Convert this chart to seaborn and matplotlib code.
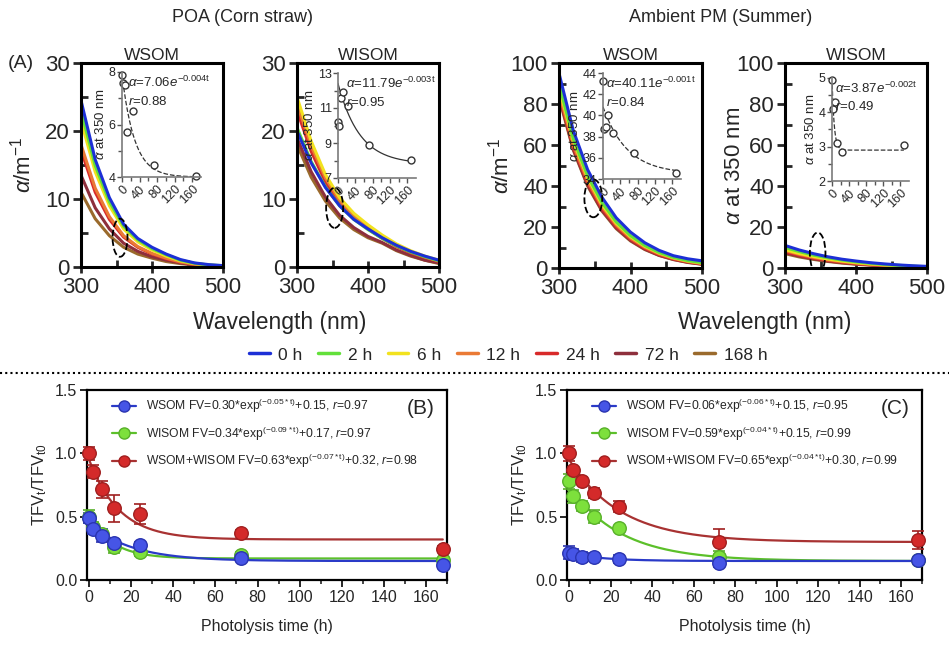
import numpy as np
import pandas as pd
import matplotlib
matplotlib.use("Agg")
import matplotlib.pyplot as plt
from matplotlib.lines import Line2D
from matplotlib.patches import Ellipse
from matplotlib.ticker import FormatStrFormatter
import seaborn as sns

W, H = 949, 648

# ---- spectra (absorption coefficient vs wavelength), rows follow TIMES ----
WAVELENGTH = [300, 320, 340, 360, 380, 400, 420, 440, 460, 480, 500]
TIMES = ["0 h", "2 h", "6 h", "12 h", "24 h", "72 h", "168 h"]
TIME_COLORS = ["#1c2fd6", "#62e03a", "#f2e21e", "#ea7a35", "#d82a2a", "#8e2f3c", "#9a6a2c"]

POA_WSOM_SPECTRA = [
    [24.5, 15.8, 10.2, 6.3, 4.2, 2.9, 1.9, 1.1, 0.6, 0.35, 0.2],
    [23.0, 14.9, 9.6, 6.0, 4.0, 2.7, 1.8, 1.0, 0.55, 0.3, 0.2],
    [21.5, 14.0, 9.0, 5.6, 3.7, 2.5, 1.6, 0.9, 0.5, 0.3, 0.15],
    [18.0, 11.6, 7.4, 4.6, 3.0, 2.0, 1.3, 0.75, 0.4, 0.25, 0.1],
    [17.2, 11.0, 7.0, 4.4, 2.9, 1.9, 1.2, 0.7, 0.4, 0.2, 0.1],
    [13.5, 8.7, 5.6, 3.5, 2.3, 1.5, 1.0, 0.6, 0.3, 0.2, 0.1],
    [11.0, 7.1, 4.6, 2.9, 1.9, 1.3, 0.8, 0.5, 0.3, 0.15, 0.1],
]
POA_WISOM_SPECTRA = [
    [20.0, 15.3, 11.7, 9.0, 7.0, 5.6, 4.3, 3.2, 2.3, 1.6, 1.0],
    [20.5, 15.5, 11.8, 9.0, 7.0, 5.5, 4.2, 3.1, 2.2, 1.5, 0.9],
    [25.0, 18.5, 13.6, 10.2, 7.9, 6.2, 4.7, 3.4, 2.4, 1.6, 1.0],
    [24.0, 17.8, 13.1, 9.8, 7.6, 5.9, 4.5, 3.2, 2.3, 1.5, 0.9],
    [23.0, 17.0, 12.5, 9.3, 7.2, 5.6, 4.2, 3.0, 2.1, 1.4, 0.8],
    [19.0, 14.0, 10.3, 7.6, 5.8, 4.5, 3.6, 2.5, 1.7, 1.0, 0.6],
    [18.0, 13.2, 9.7, 7.2, 5.5, 4.3, 3.5, 2.4, 1.6, 1.0, 0.5],
]
AMB_WSOM_SPECTRA = [
    [95, 67, 48, 34.5, 24.5, 17.5, 12.3, 8.6, 6.0, 4.5, 3.5],
    [90, 63, 45, 32, 22.5, 15.8, 11.0, 7.6, 5.2, 3.6, 2.6],
    [88, 62, 44, 31, 21.8, 15.3, 10.6, 7.3, 5.0, 3.4, 2.4],
    [86, 60, 42.5, 30, 21, 14.6, 10.1, 6.9, 4.7, 3.2, 2.2],
    [85, 59, 41.5, 29, 20.2, 14.0, 9.6, 6.5, 4.4, 3.0, 2.0],
    [84, 58, 40.5, 28.2, 19.6, 13.5, 9.2, 6.2, 4.2, 2.8, 1.9],
    [83, 57.5, 40, 27.8, 19.2, 13.2, 9.0, 6.1, 4.1, 2.7, 1.8],
]
AMB_WISOM_SPECTRA = [
    [11, 8.8, 7.0, 5.5, 4.3, 3.4, 2.6, 2.0, 1.5, 1.1, 0.8],
    [10, 8.0, 6.3, 5.0, 3.9, 3.0, 2.3, 1.7, 1.3, 0.9, 0.6],
    [9.0, 7.1, 5.6, 4.4, 3.4, 2.6, 2.0, 1.5, 1.1, 0.8, 0.5],
    [8.5, 6.7, 5.2, 4.0, 3.1, 2.4, 1.8, 1.3, 1.0, 0.7, 0.5],
    [8.0, 6.2, 4.8, 3.7, 2.8, 2.1, 1.6, 1.2, 0.9, 0.6, 0.4],
    [7.5, 5.8, 4.5, 3.4, 2.6, 2.0, 1.5, 1.1, 0.8, 0.5, 0.4],
    [7.0, 5.4, 4.2, 3.2, 2.4, 1.8, 1.4, 1.0, 0.7, 0.5, 0.3],
]

# ---- insets: a at 350 nm vs time ----
INSET_T = [0, 2, 6, 12, 24, 72, 168]
POA_WSOM_A350 = [7.9, 7.6, 7.5, 5.7, 6.5, 4.45, 4.05]
POA_WISOM_A350 = [10.2, 10.0, 11.6, 11.9, 11.1, 8.9, 8.05]
AMB_WSOM_A350 = [43.2, 38.7, 38.9, 40.0, 38.3, 36.5, 34.6]
AMB_WISOM_T = [0, 2, 6, 12, 24, 168]
AMB_WISOM_A350 = [4.95, 4.1, 4.3, 3.1, 2.85, 3.05]
# drawn trend lines: (plateau, amplitude, rate)
POA_WSOM_TREND = (4.0, 3.9, 0.035)
POA_WISOM_TREND = (7.8, 4.6, 0.02)
AMB_WSOM_TREND = (34.5, 6.3, 0.018)
AMB_WISOM_TREND = (2.9, 2.1, 0.2)

# ---- TFV ratios vs photolysis time ----
PHOTO_T = [0, 2, 6, 12, 24, 72, 168]
B_WSOM = [0.49, 0.40, 0.35, 0.29, 0.28, 0.17, 0.12]
B_WSOM_ERR = [0.04, 0.04, 0.05, 0.03, 0.02, 0.02, 0.01]
B_WISOM = [0.50, 0.42, 0.36, 0.26, 0.22, 0.20, 0.16]
B_WISOM_ERR = [0.05, 0.04, 0.03, 0.05, 0.03, 0.02, 0.01]
B_TOTAL = [1.0, 0.855, 0.715, 0.565, 0.52, 0.375, 0.245]
B_TOTAL_ERR = [0.05, 0.05, 0.07, 0.11, 0.08, 0.02, 0.02]
C_WSOM = [0.215, 0.205, 0.185, 0.185, 0.165, 0.135, 0.155]
C_WSOM_ERR = [0.05, 0.04, 0.04, 0.03, 0.03, 0.03, 0.02]
C_WISOM = [0.78, 0.66, 0.585, 0.50, 0.41, 0.18, 0.16]
C_WISOM_ERR = [0.06, 0.05, 0.04, 0.05, 0.02, 0.05, 0.01]
C_TOTAL = [1.0, 0.865, 0.785, 0.685, 0.58, 0.30, 0.315]
C_TOTAL_ERR = [0.06, 0.03, 0.03, 0.04, 0.04, 0.10, 0.07]
# fit parameters (amplitude, rate, offset) as printed in the legends
B_FITS = [(0.30, 0.05, 0.15), (0.34, 0.09, 0.17), (0.63, 0.07, 0.32)]
C_FITS = [(0.06, 0.06, 0.15), (0.59, 0.04, 0.15), (0.65, 0.04, 0.30)]
B_LABELS = [
    r"WSOM FV=0.30*exp$^{\mathrm{(-0.05*t)}}$+0.15, $r$=0.97",
    r"WISOM FV=0.34*exp$^{\mathrm{(-0.09*t)}}$+0.17, $r$=0.97",
    r"WSOM+WISOM FV=0.63*exp$^{\mathrm{(-0.07*t)}}$+0.32, $r$=0.98",
]
C_LABELS = [
    r"WSOM FV=0.06*exp$^{\mathrm{(-0.06*t)}}$+0.15, $r$=0.95",
    r"WISOM FV=0.59*exp$^{\mathrm{(-0.04*t)}}$+0.15, $r$=0.99",
    r"WSOM+WISOM FV=0.65*exp$^{\mathrm{(-0.04*t)}}$+0.30, $r$=0.99",
]
FACE = ["#4655e6", "#7de03c", "#d42a2a"]
EDGE = ["#2a34b0", "#58b02a", "#a01f1f"]
FITC = ["#2a3ac8", "#5cc02a", "#a83232"]

sns.set_theme(style="ticks")
plt.rcParams["font.family"] = ["Liberation Sans", "DejaVu Sans"]
plt.rcParams["mathtext.fontset"] = "custom"
plt.rcParams["mathtext.rm"] = "Liberation Sans"
plt.rcParams["mathtext.it"] = "Liberation Sans:italic"
plt.rcParams["mathtext.bf"] = "Liberation Sans:bold"

fig = plt.figure(figsize=(W / 100, H / 100), dpi=100)


def px_axes(l, t, r, b):
    return fig.add_axes([l / W, 1 - b / H, (r - l) / W, (b - t) / H])


def fx(x):
    return x / W


def fy(y):
    return 1 - y / H


def spectra_frame(rows):
    recs = []
    for label, vals in zip(TIMES, rows):
        for wl, v in zip(WAVELENGTH, vals):
            recs.append({"wavelength": wl, "a": v, "time": label})
    return pd.DataFrame(recs)


def spectra_panel(box, rows, ymax, title, ellipse):
    ax = px_axes(*box)
    sns.lineplot(data=spectra_frame(rows), x="wavelength", y="a", hue="time",
                 hue_order=TIMES[::-1], palette=dict(zip(TIMES, TIME_COLORS)),
                 linewidth=2.2, legend=False, estimator=None, ax=ax)
    ax.set_xlim(300, 500)
    ax.set_ylim(0, ymax)
    ax.set_xticks([300, 400, 500])
    ax.set_xticks([350, 450], minor=True)
    step = ymax / 3 if ymax == 30 else 20
    ax.set_yticks(np.arange(0, ymax + 0.1, step))
    ax.set_yticks(np.arange(step / 2, ymax, step), minor=True)
    for s in ax.spines.values():
        s.set_linewidth(2.2)
        s.set_color("black")
        s.set_visible(True)
    ax.tick_params(axis="y", which="major", direction="out", length=6, width=2, labelsize=16, pad=2)
    ax.tick_params(axis="x", which="major", direction="inout", length=8, width=2, labelsize=16)
    ax.tick_params(axis="both", which="minor", direction="in", length=5, width=2)
    ax.set_xlabel("")
    ax.set_ylabel("")
    ax.set_title(title, fontsize=12.5, pad=2)
    cx, cy, ew, eh = ellipse
    ax.add_patch(Ellipse((cx, cy), ew, eh, fill=False, ls="--", lw=1.3, color="black", zorder=5))
    return ax


def inset_panel(box, t, vals, ylim, yticks, yminor, trend, ls, txt):
    ax = px_axes(*box)
    ax.patch.set_alpha(0)
    base, amp, k = trend
    tt = np.linspace(0, 168, 200)
    ax.plot(tt, base + amp * np.exp(-k * tt), color="#333333", lw=0.9, ls=ls)
    ax.plot(t, vals, "o", mfc="white", mec="#333333", ms=5, mew=1, clip_on=False)
    ax.set_xlim(0, 180)
    ax.set_ylim(*ylim)
    ax.set_xticks([0, 40, 80, 120, 160])
    ax.set_xticks([20, 60, 100, 140], minor=True)
    ax.set_yticks(yticks)
    ax.set_yticks(yminor, minor=True)
    for side in ["top", "right"]:
        ax.spines[side].set_visible(False)
    for side in ["left", "bottom"]:
        ax.spines[side].set_color("#7a7a7a")
        ax.spines[side].set_linewidth(1.2)
    ax.tick_params(which="both", direction="out", color="#555555", width=1, labelsize=9, pad=1)
    ax.tick_params(which="major", length=3.5)
    ax.tick_params(which="minor", length=3)
    plt.setp(ax.get_xticklabels(), rotation=45, ha="right", va="top", rotation_mode="anchor")
    ax.set_ylabel(r"$\alpha$ at 350 nm", fontsize=9.5, labelpad=1)
    eq, rr, x0 = txt
    ax.text(x0, 0.90, eq, transform=ax.transAxes, fontsize=9.5, va="center")
    ax.text(x0, 0.72, rr, transform=ax.transAxes, fontsize=9.5, va="center")
    return ax


# ---- top row ----
a1 = spectra_panel((81, 63, 223, 267), POA_WSOM_SPECTRA, 30, "WSOM", (355, 4.3, 21, 5.6))
a2 = spectra_panel((297, 63, 439, 267), POA_WISOM_SPECTRA, 30, "WISOM", (353, 8.7, 24, 5.9))
a3 = spectra_panel((559, 63, 702, 268), AMB_WSOM_SPECTRA, 100, "WSOM", (348, 34, 25, 18.5))
a4 = spectra_panel((785, 63, 927, 268), AMB_WISOM_SPECTRA, 100, "WISOM", (346, 7.3, 22, 20))
a1.set_ylabel(r"$\alpha$/m$^{-1}$", fontsize=16)
a1.yaxis.set_label_coords(-0.32, 0.5)
a3.set_ylabel(r"$\alpha$/m$^{-1}$", fontsize=16)
a3.yaxis.set_label_coords(-0.32, 0.5)
a4.set_ylabel(r"$\alpha$ at 350 nm", fontsize=16)
a4.yaxis.set_label_coords(-0.28, 0.5)

inset_panel((122, 72, 201, 177), INSET_T, POA_WSOM_A350, (4, 8), [4, 6, 8], [5, 7],
            POA_WSOM_TREND, "--",
            (r"$\alpha$=7.06$e^{\mathrm{-0.004t}}$", r"$r$=0.88", 0.08))
inset_panel((338, 73, 416, 178), INSET_T, POA_WISOM_A350, (7, 13), [7, 9, 11, 13], [8, 10, 12],
            POA_WISOM_TREND, "-",
            (r"$\alpha$=11.79$e^{\mathrm{-0.003t}}$", r"$r$=0.95", 0.1))
inset_panel((603, 73, 681, 179), INSET_T, AMB_WSOM_A350, (34, 44), [34, 36, 38, 40, 42, 44], [],
            AMB_WSOM_TREND, "--",
            (r"$\alpha$=40.11$e^{\mathrm{-0.001t}}$", r"$r$=0.84", 0.04))
inset_panel((832, 78, 909, 181), AMB_WISOM_T, AMB_WISOM_A350, (2, 5), [2, 3, 4, 5], [2.5, 3.5, 4.5],
            AMB_WISOM_TREND, "--",
            (r"$\alpha$=3.87$e^{\mathrm{-0.002t}}$", r"$r$=0.49", 0.04))

fig.text(fx(243), fy(17), "POA (Corn straw)", fontsize=13, ha="center", va="center")
fig.text(fx(721), fy(17), "Ambient PM (Summer)", fontsize=13, ha="center", va="center")
fig.text(fx(8), fy(63), "(A)", fontsize=14, ha="left", va="center")
fig.text(fx(280), fy(322), "Wavelength (nm)", fontsize=16.5, ha="center", va="center")
fig.text(fx(765), fy(322), "Wavelength (nm)", fontsize=16.5, ha="center", va="center")

handles = [Line2D([], [], color=c, lw=2.5) for c in TIME_COLORS]
fig.legend(handles, TIMES, loc="center", bbox_to_anchor=(fx(508), fy(355)), ncol=7,
           frameon=False, fontsize=12.5, handlelength=1.2, handletextpad=0.5, columnspacing=0.9)
fig.add_artist(Line2D([0.0, 1.0], [fy(373), fy(373)], transform=fig.transFigure,
                      ls=(0, (1, 1.5)), color="black", lw=1.5))


# ---- bottom row ----
def tfv_panel(box, series, errs, fits, labels, tag):
    ax = px_axes(*box)
    tt = np.linspace(0, 168, 300)
    order = [1, 0, 2]
    for i in order:
        amp, k, c = fits[i]
        ax.plot(tt, amp * np.exp(-k * tt) + c, color=FITC[i], lw=1.6, zorder=2)
    for i in order:
        ax.errorbar(PHOTO_T, series[i], yerr=errs[i], fmt="none", ecolor=EDGE[i],
                    elinewidth=1.2, capsize=4, capthick=1.2, zorder=3, clip_on=False)
        df = pd.DataFrame({"t": PHOTO_T, "v": series[i]})
        sns.scatterplot(data=df, x="t", y="v", s=95, color=FACE[i], edgecolor=EDGE[i],
                        linewidth=1, zorder=4, clip_on=False, ax=ax)
    ax.set_xlim(-1, 170)
    ax.set_ylim(0, 1.5)
    ax.set_xticks(np.arange(0, 161, 20))
    ax.set_xticks(np.arange(10, 171, 20), minor=True)
    ax.set_yticks([0, 0.5, 1.0, 1.5])
    ax.yaxis.set_major_formatter(FormatStrFormatter("%.1f"))
    for s in ax.spines.values():
        s.set_linewidth(1.6)
        s.set_color("black")
    ax.tick_params(which="major", direction="out", length=5, width=1.4, labelsize=11.5, pad=2)
    ax.tick_params(which="minor", direction="out", length=3, width=1.2)
    ax.set_xlabel("Photolysis time (h)", fontsize=11.5, labelpad=10)
    ax.set_ylabel(r"TFV$_\mathrm{t}$/TFV$_\mathrm{t0}$", fontsize=12, labelpad=4)
    hs = [Line2D([], [], color=FITC[i], lw=1.6, marker="o", ms=8, mfc=FACE[i], mec=EDGE[i])
          for i in range(3)]
    ax.legend(hs, labels, loc="upper left", bbox_to_anchor=(0.05, 1.0), frameon=False,
              fontsize=8.7, handlelength=2.0, handletextpad=0.8, labelspacing=0.75, borderaxespad=0.2)
    ax.text(0.965, 0.9, tag, transform=ax.transAxes, fontsize=15, ha="right", va="center")
    return ax


tfv_panel((87, 390, 447, 580), [B_WSOM, B_WISOM, B_TOTAL], [B_WSOM_ERR, B_WISOM_ERR, B_TOTAL_ERR],
          B_FITS, B_LABELS, "(B)")
tfv_panel((567, 390, 922, 580), [C_WSOM, C_WISOM, C_TOTAL], [C_WSOM_ERR, C_WISOM_ERR, C_TOTAL_ERR],
          C_FITS, C_LABELS, "(C)")

fig.savefig("out.png", dpi=100)
